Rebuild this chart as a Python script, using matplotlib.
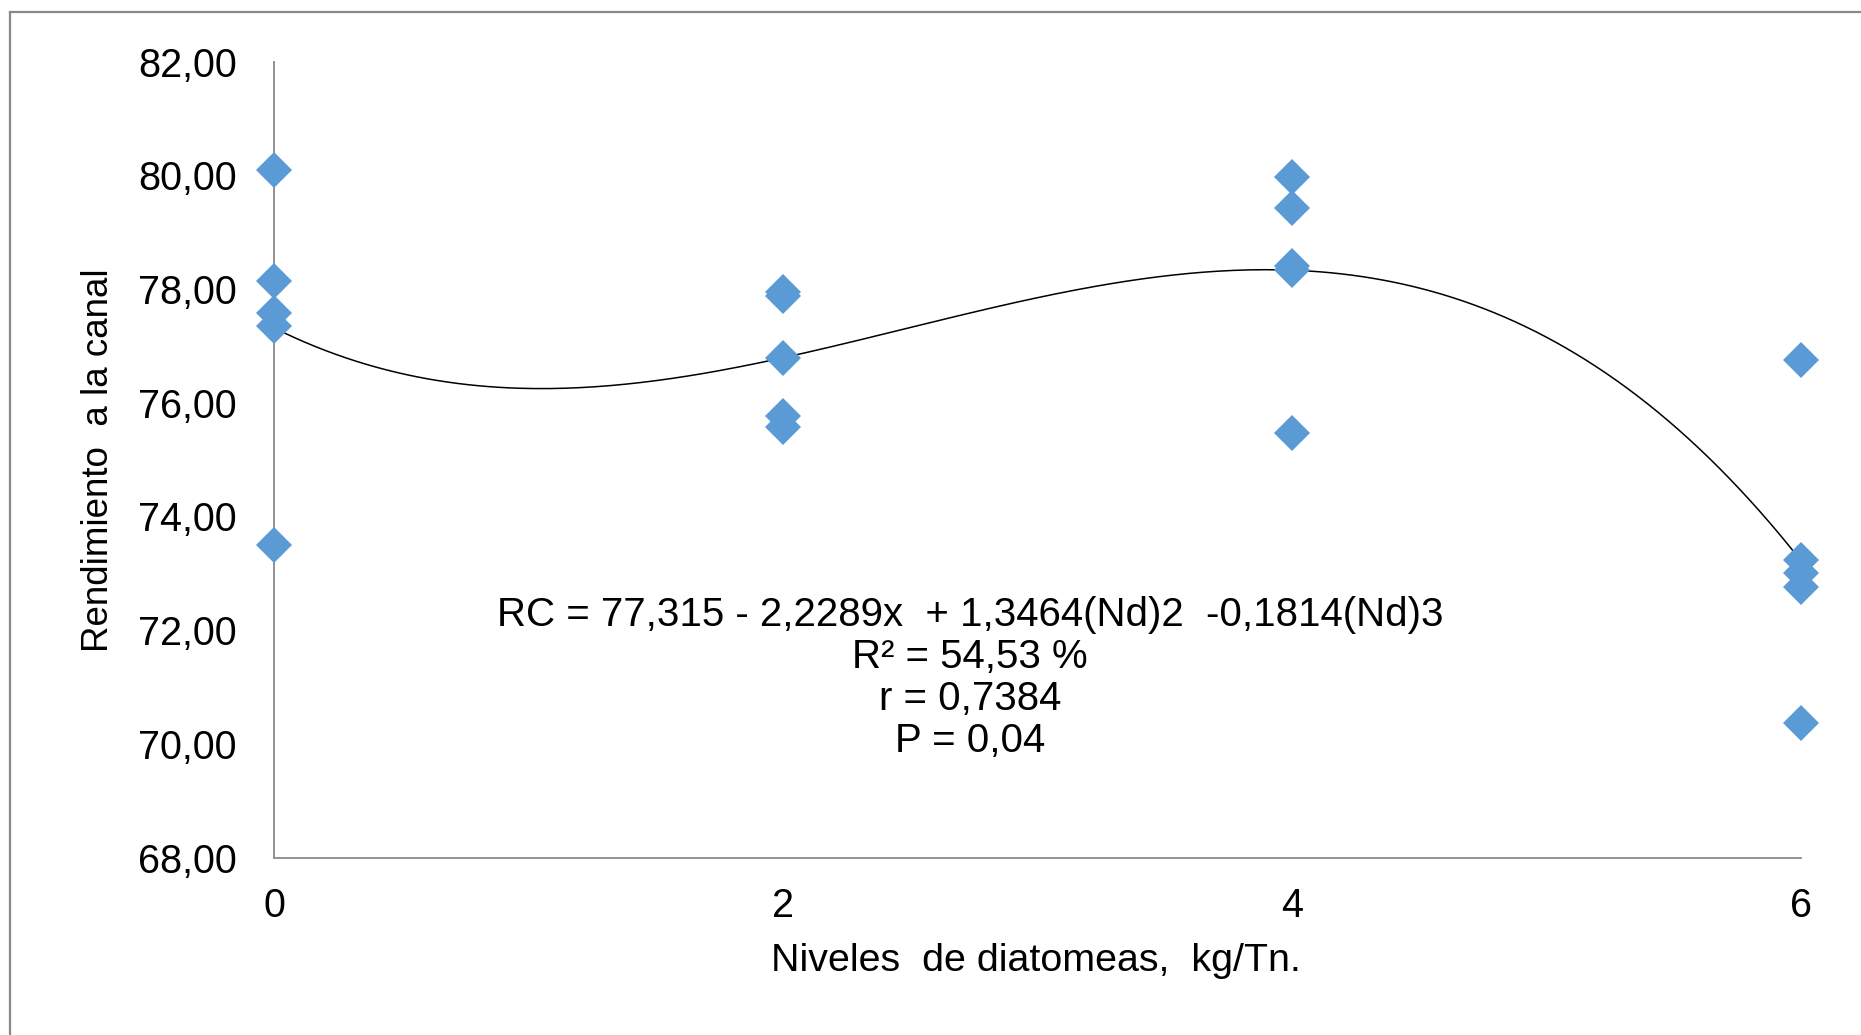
import numpy as np
import matplotlib
matplotlib.use("Agg")
import matplotlib.pyplot as plt
from matplotlib.lines import Line2D

plt.rcParams['font.family'] = ['Liberation Sans', 'DejaVu Sans']

# Data
niveles = [0, 0, 0, 0, 0,
           2, 2, 2, 2, 2,
           4, 4, 4, 4, 4,
           6, 6, 6, 6, 6]
rendimiento = [80.10, 78.14, 77.58, 77.35, 73.50,
               77.95, 77.88, 76.78, 75.76, 75.58,
               79.98, 79.42, 78.40, 78.33, 75.47,
               76.75, 73.23, 73.00, 72.76, 70.36]
coef = [77.315, -2.2289, 1.3464, -0.1814]   # trend polynomial (b0, b1, b2, b3)
x_ticks = [0, 2, 4, 6]
y_ticks = [68, 70, 72, 74, 76, 78, 80, 82]
y_ticklabels = ["68,00", "70,00", "72,00", "74,00", "76,00", "78,00", "80,00", "82,00"]
eq_text = "RC = 77,315 - 2,2289x  + 1,3464(Nd)2  -0,1814(Nd)3\nR² = 54,53 %\nr = 0,7384\nP = 0,04"

W, H = 1861, 1035
fig = plt.figure(figsize=(W / 100, H / 100), dpi=100)
left, right = 274.2 / W, 1800.6 / W
bottom, top = 1 - 857.5 / H, 1 - 61.7 / H
ax = fig.add_axes([left, bottom, right - left, top - bottom])

# trend curve
xs = np.linspace(0, 6, 300)
ys = coef[0] + coef[1] * xs + coef[2] * xs ** 2 + coef[3] * xs ** 3
ax.plot(xs, ys, color='black', lw=1.1, zorder=2)

ax.plot(niveles, rendimiento, linestyle='none', marker='D', markersize=18.5,
        color='#5B9BD5', markeredgewidth=0, zorder=3, clip_on=False)

ax.set_xlim(0, 6)
ax.set_ylim(68, 82)
ax.set_xticks(x_ticks)
ax.set_xticklabels([str(v) for v in x_ticks])
ax.set_yticks(y_ticks)
ax.set_yticklabels(y_ticklabels)
ax.tick_params(axis='both', length=0, labelsize=28.5, colors='#000000')
ax.tick_params(axis='y', pad=27)
ax.tick_params(axis='x', pad=21)
for s in ['top', 'right']:
    ax.spines[s].set_visible(False)
for s in ['left', 'bottom']:
    ax.spines[s].set_color('#898989')
    ax.spines[s].set_linewidth(1.3)

ax.text(2.735, 71.16, eq_text, ha='center', va='center', multialignment='center',
        fontsize=29, linespacing=1.14, zorder=4)

fig.text(1036 / W, 1 - 961 / H, "Niveles  de diatomeas,  kg/Tn.", ha='center', va='center',
         fontsize=28.4)
fig.text(98.5 / W, 1 - 460 / H, "Rendimiento  a la canal", ha='center', va='center',
         rotation=90, fontsize=26.5)

# outer chart frame (partially visible)
fig.add_artist(Line2D([9.5 / W, 9.5 / W], [1 - 12 / H, 0], transform=fig.transFigure,
                      color='#898989', lw=1.6))
fig.add_artist(Line2D([9.5 / W, 1], [1 - 12 / H, 1 - 12 / H], transform=fig.transFigure,
                      color='#898989', lw=1.6))

fig.savefig("out.png", dpi=100, facecolor='white')
